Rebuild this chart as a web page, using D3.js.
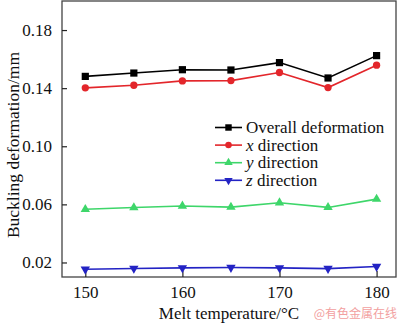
<!DOCTYPE html>
<html><head><meta charset="utf-8">
<script src="https://cdn.jsdelivr.net/npm/d3@7"></script>
<style>body{margin:0;background:#fff}svg{display:block}</style>
</head><body>
<svg id="c" width="400" height="324"></svg>
<script>
const temps = [150, 155, 160, 165, 170, 175, 180];
const overall = [0.1481, 0.1504, 0.1527, 0.1525, 0.1576, 0.1470, 0.1624];
const xDir = [0.1402, 0.1420, 0.1450, 0.1452, 0.1508, 0.1404, 0.1558];
const yDir = [0.0566, 0.0578, 0.0589, 0.0581, 0.0611, 0.0579, 0.0636];
const zDir = [0.0153, 0.0159, 0.0163, 0.0165, 0.0163, 0.0158, 0.0172];
const xTicks = [150, 160, 170, 180];
const yTicks = [0.02, 0.06, 0.10, 0.14, 0.18];
const seriesNames = ["Overall deformation", "x direction", "y direction", "z direction"];

const svg = d3.select("#c");
const L = 62, R = 396, T = 1, B = 277;
const x = d3.scaleLinear().domain([147.6, 182.0]).range([L, R]);
const y = d3.scaleLinear().domain([0.01, 0.2]).range([B, T]);
const font = "'Liberation Serif','Times New Roman',serif";

svg.append("rect").attr("x", L).attr("y", T).attr("width", R - L).attr("height", B - T)
  .attr("fill", "none").attr("stroke", "#444").attr("stroke-width", 1.3);

const xAxis = svg.append("g").attr("transform", `translate(0,${B})`)
  .call(d3.axisBottom(x).tickValues(xTicks).tickSizeInner(-6).tickSizeOuter(0).tickPadding(9).tickFormat(d3.format("d")));
xAxis.select(".domain").remove();
xAxis.selectAll("line").attr("stroke", "#222").attr("stroke-width", 1.2);
xAxis.selectAll("text").attr("font-family", font).attr("font-size", 17).attr("fill", "#111");

const yAxis = svg.append("g").attr("transform", `translate(${L},0)`)
  .call(d3.axisLeft(y).tickValues(yTicks).tickSizeInner(-5).tickSizeOuter(0).tickPadding(10).tickFormat(d3.format(".2f")));
yAxis.select(".domain").remove();
yAxis.selectAll("line").attr("stroke", "#222").attr("stroke-width", 1.2);
yAxis.selectAll("text").attr("font-family", font).attr("font-size", 17).attr("fill", "#111");

svg.append("text").attr("x", 229).attr("y", 319).attr("text-anchor", "middle")
  .attr("font-family", font).attr("font-size", 17).attr("fill", "#111").text("Melt temperature/°C");
svg.append("text").attr("transform", "translate(19,145) rotate(-90)").attr("text-anchor", "middle")
  .attr("font-family", font).attr("font-size", 17.5).attr("fill", "#111").text("Buckling deformation/mm");

const series = [
  {vals: overall, color: "#000000", sym: d3.symbolSquare, size: 52, rot: 0},
  {vals: xDir, color: "#e3262b", sym: d3.symbolCircle, size: 42, rot: 0},
  {vals: yDir, color: "#3ed66a", sym: d3.symbolTriangle, size: 38, rot: 0},
  {vals: zDir, color: "#2323c4", sym: d3.symbolTriangle, size: 38, rot: 180}
];
const line = d3.line().x((d, i) => x(temps[i])).y(d => y(d));
series.forEach(s => {
  svg.append("path").attr("d", line(s.vals)).attr("fill", "none").attr("stroke", s.color).attr("stroke-width", 1.6);
  svg.append("g").selectAll("path").data(s.vals).join("path")
    .attr("transform", (d, i) => `translate(${x(temps[i])},${y(d)}) rotate(${s.rot})`)
    .attr("d", d3.symbol(s.sym, s.size)).attr("fill", s.color);
});

const leg = svg.append("g");
series.forEach((s, i) => {
  const yy = 127.5 + i * 17.6;
  leg.append("line").attr("x1", 215).attr("x2", 242).attr("y1", yy).attr("y2", yy).attr("stroke", s.color).attr("stroke-width", 1.6);
  leg.append("path").attr("transform", `translate(228.5,${yy}) rotate(${s.rot})`).attr("d", d3.symbol(s.sym, s.size * 0.8)).attr("fill", s.color);
  const t = leg.append("text").attr("x", 246).attr("y", yy + 5.5).attr("font-family", font).attr("font-size", 17).attr("fill", "#111");
  const nm = seriesNames[i];
  if (i === 0) t.text(nm);
  else {
    const parts = nm.split(" ");
    t.append("tspan").attr("font-style", "italic").text(parts[0]);
    t.append("tspan").text(" " + parts.slice(1).join(" "));
  }
});

svg.append("text").attr("x", 397).attr("y", 318).attr("text-anchor", "end")
  .attr("font-family", "'Noto Sans CJK SC',sans-serif").attr("font-size", 12).attr("fill", "#f2a0a0").text("@有色金属在线");
</script>
</body></html>
